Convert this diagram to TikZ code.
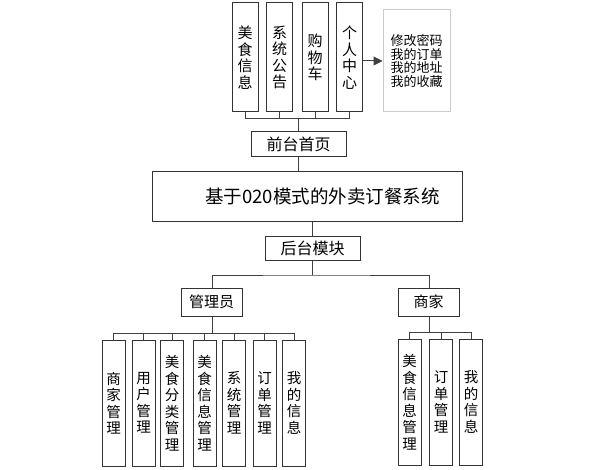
\documentclass[tikz,border=0pt]{standalone}
\usepackage{fontspec}
\newfontfamily\cjk{Noto Sans CJK SC}
\usetikzlibrary{positioning,arrows.meta}

\begin{document}
\begin{tikzpicture}[x=1pt,y=-1pt,every node/.append style={font=\cjk,inner sep=0pt},
                    box/.style={draw=black!80,line width=1pt,rectangle},
                    topbox/.style={box,minimum width=26pt,minimum height=109pt,align=center,
                                   font=\cjk\fontsize{15}{16.5}\selectfont},
                    lowbox/.style={box,minimum width=23pt,minimum height=126pt,align=center,
                                   font=\cjk\fontsize{14.5}{16.5}\selectfont},
                    link/.style={draw=black!75,line width=1pt}]
    \useasboundingbox (0,0) rectangle (601,470);
    % front end
    \node[topbox] (food)  at (245,57.5)   {美\\食\\信\\息};
    \node[topbox] (note)  at (279.7,57.5) {系\\统\\公\\告};
    \node[topbox] (cart)  at (315,57.5)   {购\\物\\车};
    \node[topbox] (self)  at (349.7,57.5) {个\\人\\中\\心};
    \node[draw=black!20,line width=1pt,minimum width=67pt,minimum height=102pt,align=left,
          font=\cjk\fontsize{13}{13.5}\selectfont] (selflist) at (416.5,61)
          {修改密码\\我的订单\\我的地址\\我的收藏};
    \draw[link,-{Triangle[length=9pt,width=9pt]}] (self.east |- 0,61) -- (selflist.west |- 0,61);
    \node[box,minimum width=95pt,minimum height=25pt,font=\cjk\fontsize{16}{18}\selectfont]
          (front) at (298.5,144.5) {前台首页};
    \coordinate (frontbus) at (298,119);
    \foreach \n in {food,note,cart,self}
      \draw[link] (\n.south) |- (frontbus);
    \draw[link] (frontbus) -- (front.north -| frontbus);
    % system
    \node[box,minimum width=310pt,minimum height=49pt,font=\cjk\fontsize{18.5}{20}\selectfont]
          (sys) at (307,196.5) {\hspace*{31pt}基于020模式的外卖订餐系统};
    \draw[link] (front.south -| 298,0) -- (sys.north -| 298,0);
    \node[box,minimum width=95pt,minimum height=24pt,font=\cjk\fontsize{16}{18}\selectfont]
          (back) at (312.5,248) {后台模块};
    \draw[link] (sys.south -| 312,0) -- (back.north -| 312,0);
    % back end
    \node[box,minimum width=61pt,minimum height=28pt,font=\cjk\fontsize{15}{17}\selectfont]
          (admin) at (211.5,302) {管理员};
    \node[box,minimum width=61pt,minimum height=28pt,font=\cjk\fontsize{15}{17}\selectfont]
          (shop) at (428.5,302) {商家};
    \coordinate (backbus) at (312,275);
    \draw[link] (back.south -| backbus) -- (backbus);
    \draw[link] (admin.north -| 212,0) |- (backbus) -| (shop.north -| 429,0);
    % admin modules
    \node[lowbox] (a1) at (113.5,403) {商\\家\\管\\理};
    \node[lowbox] (a2) at (143.5,403) {用\\户\\管\\理};
    \node[lowbox] (a3) at (172,403)   {美\\食\\分\\类\\管\\理};
    \node[lowbox] (a4) at (204.5,403) {美\\食\\信\\息\\管\\理};
    \node[lowbox] (a5) at (234,403)   {系\\统\\管\\理};
    \node[lowbox] (a6) at (264.5,403) {订\\单\\管\\理};
    \node[lowbox] (a7) at (294,403)   {我\\的\\信\\息};
    \coordinate (adminbus) at (212,333);
    \draw[link] (admin.south -| adminbus) -- (adminbus);
    \foreach \n in {a1,a2,a3,a4,a5,a6,a7}
      \draw[link] (\n.north) |- (adminbus);
    % shop modules
    \node[lowbox] (s1) at (409.5,402) {美\\食\\信\\息\\管\\理};
    \node[lowbox] (s2) at (441,402)   {订\\单\\管\\理};
    \node[lowbox] (s3) at (471,402)   {我\\的\\信\\息};
    \coordinate (shopbus) at (429,332);
    \draw[link] (shop.south -| shopbus) -- (shopbus);
    \foreach \n in {s1,s2,s3}
      \draw[link] (\n.north) |- (shopbus);
\end{tikzpicture}
\end{document}
